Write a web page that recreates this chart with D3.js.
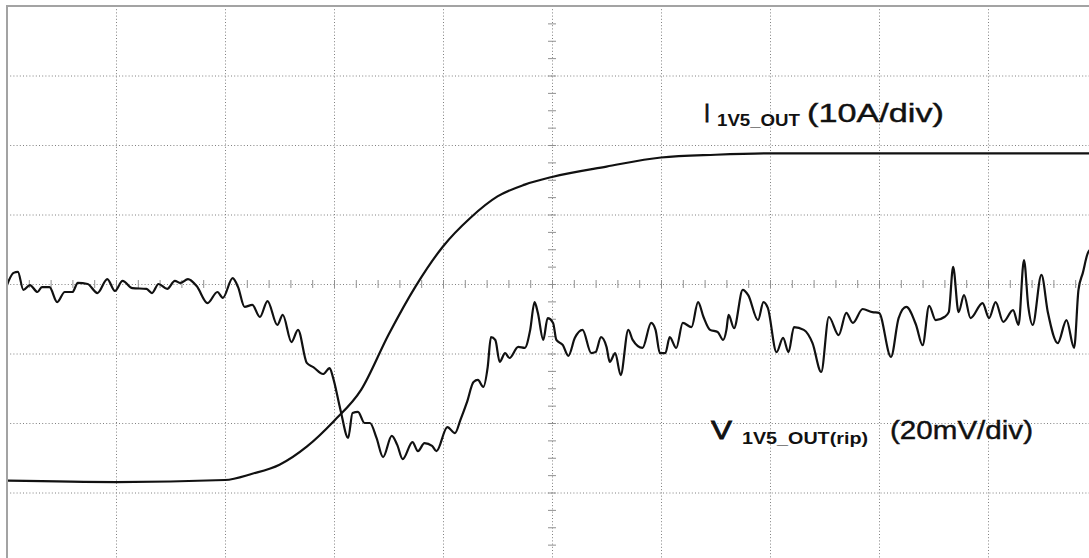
<!DOCTYPE html>
<html>
<head>
<meta charset="utf-8">
<script src="https://cdn.jsdelivr.net/npm/d3@7"></script>
<style>
  html, body { margin: 0; padding: 0; background: #fff; overflow: hidden; }
  svg { display: block; }
</style>
</head>
<body>
<svg id="chart" width="1089" height="558"></svg>
<script>
// ---- Data (time in screen divisions, 10 div full scale) ----
// Output current I_1V5_OUT (A), 10 A/div
const iTime = [0, 1.0, 2.0, 2.25, 2.5, 2.75, 3.0, 3.25, 3.5, 3.75, 4.0, 4.25, 4.5, 4.75, 5.0, 5.5, 6.0, 6.5, 7.0, 10.0];
const iAmps = [0, -0.2, 0.1, 1.0, 2.3, 4.9, 8.6, 13.1, 21.0, 28.0, 33.7, 37.8, 40.9, 42.6, 43.7, 45.2, 46.5, 46.9, 47.1, 47.1];

// Output voltage ripple V_1V5_OUT(rip) (mV), 20 mV/div
const vTime = [
  0.00,0.06,0.10,0.15,0.21,0.28,0.32,0.39,0.46,0.53,
  0.60,0.65,0.74,0.83,0.92,0.99,1.06,1.15,1.28,1.33,
  1.39,1.47,1.54,1.59,1.66,1.74,1.84,1.93,1.98,2.07,
  2.12,2.18,2.25,2.32,2.39,2.48,2.53,2.61,2.67,2.75,
  2.81,2.90,2.96,2.99,3.06,3.13,3.17,3.22,3.28,3.33,
  3.39,3.45,3.53,3.58,3.63,3.72,3.77,3.83,3.90,3.94,
  4.04,4.11,4.16,4.22,4.28,4.32,4.37,4.41,4.44,4.48,
  4.52,4.57,4.61,4.69,4.75,4.80,4.84,4.87,4.92,4.96,
  5.01,5.04,5.10,5.15,5.21,5.28,5.36,5.40,5.45,5.50,
  5.53,5.58,5.63,5.70,5.74,5.83,5.91,5.95,5.99,6.04,
  6.08,6.14,6.20,6.28,6.34,6.39,6.45,6.52,6.57,6.60,
  6.62,6.67,6.75,6.80,6.89,6.94,6.98,7.06,7.12,7.17,
  7.22,7.31,7.39,7.47,7.54,7.63,7.70,7.76,7.85,7.94,
  8.00,8.11,8.18,8.25,8.34,8.40,8.46,8.52,8.60,8.64,
  8.68,8.73,8.78,8.84,8.95,9.01,9.07,9.14,9.23,9.28,
  9.33,9.37,9.41,9.49,9.55,9.64,9.72,9.79,9.83,9.87,
  9.92,10.00
];
const vRipple = [
  -0.3,3.2,3.5,-1.7,-0.3,-2.3,-0.9,-0.9,-5.2,-2.3,
  -2.3,0.3,0.0,-2.6,1.4,-2.0,0.9,-1.2,-1.4,-2.6,
  0.0,-1.4,0.9,0.3,1.4,-0.6,-5.5,-2.3,-4.0,1.7,
  -0.9,-6.6,-6.0,-9.5,-4.9,-11.8,-8.9,-16.7,-13.2,-22.7,
  -23.9,-25.9,-24.2,-26.8,-36.3,-44.3,-37.1,-36.8,-40.0,-40.0,
  -44.3,-49.8,-43.7,-46.3,-50.4,-45.5,-48.1,-45.8,-46.6,-48.1,
  -41.2,-42.9,-39.1,-34.0,-28.2,-27.6,-29.6,-23.9,-15.3,-16.1,
  -22.4,-19.9,-21.3,-18.1,-18.4,-13.2,-5.2,-8.3,-16.1,-9.8,
  -11.2,-16.1,-17.6,-20.7,-15.5,-13.2,-19.9,-19.6,-15.3,-18.1,
  -22.4,-19.9,-26.2,-13.2,-16.1,-18.4,-11.2,-13.2,-19.9,-19.9,
  -15.3,-18.4,-11.2,-12.4,-5.2,-9.5,-13.2,-13.8,-16.1,-13.2,
  -8.9,-12.7,-1.7,-3.2,-10.4,-5.2,-6.9,-19.6,-15.5,-19.6,
  -12.4,-13.2,-17.0,-25.3,-9.5,-14.7,-8.3,-11.2,-7.2,-8.1,
  -8.3,-21.0,-9.8,-6.6,-11.8,-17.6,-6.3,-10.4,-9.5,-8.1,
  4.9,-8.1,-3.2,-9.8,-5.5,-9.8,-5.2,-10.9,-7.5,-11.8,
  6.9,-6.6,-11.8,2.6,-8.3,-17.0,-10.4,-18.4,-1.7,3.2,
  9.2,11.2
];

// Grid divisions
const xDivs = d3.range(0, 11);          // 10 horizontal divisions
const yDivs = d3.range(-4, 5);          // 8 vertical divisions
const xMinor = d3.range(0, 10.001, 0.2);
const yMinor = d3.range(-4, 4.001, 0.25);

// Labels
const labelI = { main: "I", sub: "1V5_OUT", unit: "(10A/div)" };
const labelV = { main: "V", sub: "1V5_OUT(rip)", unit: "(20mV/div)" };

// ---- Layout ----
const svg = d3.select("#chart");
const pLeft = 7, pTop = 6, divW = 109, divH = 69.5;
const pRight = pLeft + 10 * divW, pBottom = pTop + 8 * divH;

const x = d3.scaleLinear().domain([0, 10]).range([pLeft, pRight]);
const yDiv = d3.scaleLinear().domain([-4, 4]).range([pBottom, pTop]);
// current: 0 A sits 6.83 div below the top
const yI = d3.scaleLinear().domain([-11.7, 68.3]).range([pBottom, pTop]);
const yV = d3.scaleLinear().domain([-80, 80]).range([pBottom, pTop]);

// ---- Grid (via axes) ----
const gridColor = "#808080";
const gx = svg.append("g").attr("transform", `translate(0,${pTop})`)
  .call(d3.axisBottom(x).tickValues(xDivs).tickSize(pBottom - pTop).tickFormat(""));
const gy = svg.append("g").attr("transform", `translate(${pLeft},0)`)
  .call(d3.axisRight(yDiv).tickValues(yDivs).tickSize(pRight - pLeft).tickFormat(""));
[gx, gy].forEach(g => {
  g.select(".domain").remove();
  g.selectAll(".tick line")
    .attr("stroke", gridColor)
    .attr("stroke-width", 1)
    .attr("stroke-dasharray", "1,2.2");
});

// Center axis minor ticks
const cx = x(5), cy = yDiv(0);
const mx = svg.append("g").attr("transform", `translate(0,${cy - 4})`)
  .call(d3.axisBottom(x).tickValues(xMinor).tickSize(8).tickFormat(""));
const my = svg.append("g").attr("transform", `translate(${cx - 4},0)`)
  .call(d3.axisRight(yDiv).tickValues(yMinor).tickSize(8).tickFormat(""));
[mx, my].forEach(g => {
  g.select(".domain").remove();
  g.selectAll(".tick line").attr("stroke", "#909090").attr("stroke-width", 1);
});

// Border (left & top)
svg.append("line").attr("x1", pLeft).attr("x2", pLeft).attr("y1", pTop - 1).attr("y2", 558)
  .attr("stroke", "#a3a3a3").attr("stroke-width", 2);
svg.append("line").attr("x1", pLeft - 1).attr("x2", 1089).attr("y1", pTop).attr("y2", pTop)
  .attr("stroke", "#a3a3a3").attr("stroke-width", 2);

// ---- Traces ----
svg.append("clipPath").attr("id", "plotclip")
  .append("rect").attr("x", pLeft + 1).attr("y", pTop + 1)
  .attr("width", pRight - pLeft).attr("height", pBottom - pTop);

const lineI = d3.line().x((d, i) => x(iTime[i])).y((d) => yI(d)).curve(d3.curveMonotoneX);
const lineV = d3.line().x((d, i) => x(vTime[i])).y((d) => yV(d)).curve(d3.curveMonotoneX);

const traces = svg.append("g").attr("clip-path", "url(#plotclip)");
traces.append("path").attr("d", lineI(iAmps))
  .attr("fill", "none").attr("stroke", "#111").attr("stroke-width", 2.2)
  .attr("stroke-linejoin", "round");
traces.append("path").attr("d", lineV(vRipple))
  .attr("fill", "none").attr("stroke", "#111").attr("stroke-width", 2.2)
  .attr("stroke-linejoin", "round");

// ---- Labels ----
const font = "'Liberation Sans', Arial, sans-serif";
function label(g, lab, o) {
  g.append("text").attr("x", o.mx).attr("y", o.base)
    .attr("font-family", font).attr("font-size", 25).attr("fill", "#111")
    .attr("stroke", "#111").attr("stroke-width", 0.8)
    .attr("textLength", o.mw).attr("lengthAdjust", "spacingAndGlyphs")
    .text(lab.main);
  g.append("text").attr("x", o.sx).attr("y", o.sbase)
    .attr("font-family", font).attr("font-size", 16).attr("font-weight", "bold").attr("fill", "#111")
    .attr("textLength", o.sw).attr("lengthAdjust", "spacingAndGlyphs")
    .text(lab.sub);
  g.append("text").attr("x", o.ux).attr("y", o.base)
    .attr("font-family", font).attr("font-size", 25).attr("fill", "#111")
    .attr("stroke", "#111").attr("stroke-width", 0.4)
    .attr("textLength", o.uw).attr("lengthAdjust", "spacingAndGlyphs")
    .text(lab.unit);
}
const lg = svg.append("g");
label(lg, labelI, { mx: 704, mw: 6, base: 122, sx: 717, sbase: 126, sw: 83, ux: 807, uw: 137 });
label(lg, labelV, { mx: 711, mw: 21, base: 439, sx: 742, sbase: 444, sw: 126, ux: 890, uw: 143 });
</script>
</body>
</html>
